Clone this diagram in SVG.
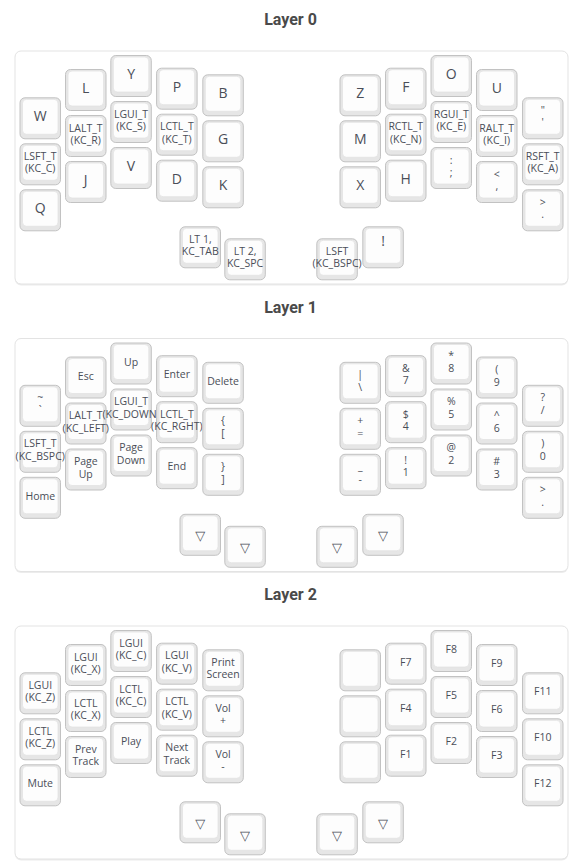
<svg xmlns="http://www.w3.org/2000/svg" xmlns:xlink="http://www.w3.org/1999/xlink" width="580" height="865" viewBox="0 0 580 865">
<style>
.title{font-family:Roboto,"Liberation Sans",sans-serif;font-weight:bold;font-size:16px;fill:#4a4a4a;text-anchor:middle}
.panel{fill:#ffffff;stroke:#e3e3e3;stroke-width:1}
.pshadow{fill:#ececec}
.co{fill:#e6e6e6;stroke:#c2c2c2;stroke-width:1}
.ci{fill:#fdfdfd;stroke:#e2e2e2;stroke-width:0.8}
text{font-family:"Open Sans","Noto Sans","Liberation Sans",sans-serif;fill:#4a4e58;text-anchor:middle}
.b{font-size:14px}
.s{font-size:10.5px}
.tri{font-family:"DejaVu Sans",sans-serif;font-size:13px}
</style>
<defs>
<g id="cap">
<rect class="co" x="0.5" y="0.5" width="40.5" height="41" rx="5"/>
<rect class="ci" x="3" y="2" width="35.5" height="35" rx="4"/>
</g>
</defs>

<!-- ================= LAYER 0 ================= -->
<g id="layer0">
<text class="title" x="290.5" y="25">Layer 0</text>
<rect class="pshadow" x="15" y="52.5" width="553" height="233" rx="6"/>
<rect class="panel" x="15" y="51" width="553" height="233" rx="6"/>
<g id="L0_W" transform="translate(19.5,97.3)"><use href="#cap"/><text class="b" x="20.75" y="24">W</text></g>
<g id="L0_C" transform="translate(19.5,143.3)"><use href="#cap"/><text class="s"><tspan x="20.75" y="16.5">LSFT_T</tspan><tspan x="20.75" y="29">(KC_C)</tspan></text></g>
<g id="L0_Q" transform="translate(19.5,189.3)"><use href="#cap"/><text class="b" x="20.75" y="24">Q</text></g>
<g id="L0_L" transform="translate(65,69)"><use href="#cap"/><text class="b" x="20.75" y="24">L</text></g>
<g id="L0_R" transform="translate(65,115)"><use href="#cap"/><text class="s"><tspan x="20.75" y="16.5">LALT_T</tspan><tspan x="20.75" y="29">(KC_R)</tspan></text></g>
<g id="L0_J" transform="translate(65,161)"><use href="#cap"/><text class="b" x="20.75" y="24">J</text></g>
<g id="L0_Y" transform="translate(110.3,55)"><use href="#cap"/><text class="b" x="20.75" y="24">Y</text></g>
<g id="L0_S" transform="translate(110.3,101)"><use href="#cap"/><text class="s"><tspan x="20.75" y="16.5">LGUI_T</tspan><tspan x="20.75" y="29">(KC_S)</tspan></text></g>
<g id="L0_V" transform="translate(110.3,147)"><use href="#cap"/><text class="b" x="20.75" y="24">V</text></g>
<g id="L0_P" transform="translate(156.1,67.7)"><use href="#cap"/><text class="b" x="20.75" y="24">P</text></g>
<g id="L0_T" transform="translate(156.1,113.7)"><use href="#cap"/><text class="s"><tspan x="20.75" y="16.5">LCTL_T</tspan><tspan x="20.75" y="29">(KC_T)</tspan></text></g>
<g id="L0_D" transform="translate(156.1,159.7)"><use href="#cap"/><text class="b" x="20.75" y="24">D</text></g>
<g id="L0_B" transform="translate(202.3,74.3)"><use href="#cap"/><text class="b" x="20.75" y="24">B</text></g>
<g id="L0_G" transform="translate(202.3,120.3)"><use href="#cap"/><text class="b" x="20.75" y="24">G</text></g>
<g id="L0_K" transform="translate(202.3,166.3)"><use href="#cap"/><text class="b" x="20.75" y="24">K</text></g>
<g id="L0_Z" transform="translate(339.5,74.3)"><use href="#cap"/><text class="b" x="20.75" y="24">Z</text></g>
<g id="L0_M" transform="translate(339.5,120.3)"><use href="#cap"/><text class="b" x="20.75" y="24">M</text></g>
<g id="L0_X" transform="translate(339.5,166.3)"><use href="#cap"/><text class="b" x="20.75" y="24">X</text></g>
<g id="L0_F" transform="translate(385,67.7)"><use href="#cap"/><text class="b" x="20.75" y="24">F</text></g>
<g id="L0_N" transform="translate(385,113.7)"><use href="#cap"/><text class="s"><tspan x="20.75" y="16.5">RCTL_T</tspan><tspan x="20.75" y="29">(KC_N)</tspan></text></g>
<g id="L0_H" transform="translate(385,159.7)"><use href="#cap"/><text class="b" x="20.75" y="24">H</text></g>
<g id="L0_O" transform="translate(430.5,55)"><use href="#cap"/><text class="b" x="20.75" y="24">O</text></g>
<g id="L0_E" transform="translate(430.5,101)"><use href="#cap"/><text class="s"><tspan x="20.75" y="16.5">RGUI_T</tspan><tspan x="20.75" y="29">(KC_E)</tspan></text></g>
<g id="L0_SCLN" transform="translate(430.5,147)"><use href="#cap"/><text class="s"><tspan x="20.75" y="16.5">:</tspan><tspan x="20.75" y="29">;</tspan></text></g>
<g id="L0_U" transform="translate(476,69)"><use href="#cap"/><text class="b" x="20.75" y="24">U</text></g>
<g id="L0_I" transform="translate(476,115)"><use href="#cap"/><text class="s"><tspan x="20.75" y="16.5">RALT_T</tspan><tspan x="20.75" y="29">(KC_I)</tspan></text></g>
<g id="L0_COMM" transform="translate(476,161)"><use href="#cap"/><text class="s"><tspan x="20.75" y="16.5">&lt;</tspan><tspan x="20.75" y="29">,</tspan></text></g>
<g id="L0_QUOT" transform="translate(522,97.3)"><use href="#cap"/><text class="s"><tspan x="20.75" y="16.5">"</tspan><tspan x="20.75" y="29">'</tspan></text></g>
<g id="L0_A" transform="translate(522,143.3)"><use href="#cap"/><text class="s"><tspan x="20.75" y="16.5">RSFT_T</tspan><tspan x="20.75" y="29">(KC_A)</tspan></text></g>
<g id="L0_DOT" transform="translate(522,189.3)"><use href="#cap"/><text class="s"><tspan x="20.75" y="16.5">&gt;</tspan><tspan x="20.75" y="29">.</tspan></text></g>
<g id="L0_TAB" transform="translate(179.5,226.3)"><use href="#cap"/><text class="s"><tspan x="20.75" y="16.5">LT 1,</tspan><tspan x="20.75" y="29">KC_TAB</tspan></text></g>
<g id="L0_SPC" transform="translate(224.3,238.3)"><use href="#cap"/><text class="s"><tspan x="20.75" y="16.5">LT 2,</tspan><tspan x="20.75" y="29">KC_SPC</tspan></text></g>
<g id="L0_BSPC" transform="translate(316.3,238.3)"><use href="#cap"/><text class="s"><tspan x="20.75" y="16.5">LSFT</tspan><tspan x="20.75" y="29">(KC_BSPC)</tspan></text></g>
<g id="L0_EXLM" transform="translate(362.3,226.3)"><use href="#cap"/><text class="b" x="20.75" y="19.5">!</text></g>
</g>

<!-- ================= LAYER 1 ================= -->
<g id="layer1" transform="translate(0,287.5)">
<text class="title" x="290.5" y="25">Layer 1</text>
<rect class="pshadow" x="15" y="52.5" width="553" height="233" rx="6"/>
<rect class="panel" x="15" y="51" width="553" height="233" rx="6"/>
<g id="L1_TILD" transform="translate(19.5,97.3)"><use href="#cap"/><text class="s"><tspan x="20.75" y="16.5">~</tspan><tspan x="20.75" y="29">`</tspan></text></g>
<g id="L1_BSPC" transform="translate(19.5,143.3)"><use href="#cap"/><text class="s"><tspan x="20.75" y="16.5">LSFT_T</tspan><tspan x="20.75" y="29">(KC_BSPC)</tspan></text></g>
<g id="L1_HOME" transform="translate(19.5,189.3)"><use href="#cap"/><text class="s" x="20.75" y="23">Home</text></g>
<g id="L1_ESC" transform="translate(65,69)"><use href="#cap"/><text class="s" x="20.75" y="23">Esc</text></g>
<g id="L1_LEFT" transform="translate(65,115)"><use href="#cap"/><text class="s"><tspan x="20.75" y="16.5">LALT_T</tspan><tspan x="20.75" y="29">(KC_LEFT)</tspan></text></g>
<g id="L1_PGUP" transform="translate(65,161)"><use href="#cap"/><text class="s"><tspan x="20.75" y="16.5">Page</tspan><tspan x="20.75" y="29">Up</tspan></text></g>
<g id="L1_UP" transform="translate(110.3,55)"><use href="#cap"/><text class="s" x="20.75" y="23">Up</text></g>
<g id="L1_DOWN" transform="translate(110.3,101)"><use href="#cap"/><text class="s"><tspan x="20.75" y="16.5">LGUI_T</tspan><tspan x="20.75" y="29">(KC_DOWN)</tspan></text></g>
<g id="L1_PGDN" transform="translate(110.3,147)"><use href="#cap"/><text class="s"><tspan x="20.75" y="16.5">Page</tspan><tspan x="20.75" y="29">Down</tspan></text></g>
<g id="L1_ENT" transform="translate(156.1,67.7)"><use href="#cap"/><text class="s" x="20.75" y="23">Enter</text></g>
<g id="L1_RGHT" transform="translate(156.1,113.7)"><use href="#cap"/><text class="s"><tspan x="20.75" y="16.5">LCTL_T</tspan><tspan x="20.75" y="29">(KC_RGHT)</tspan></text></g>
<g id="L1_END" transform="translate(156.1,159.7)"><use href="#cap"/><text class="s" x="20.75" y="23">End</text></g>
<g id="L1_DEL" transform="translate(202.3,74.3)"><use href="#cap"/><text class="s" x="20.75" y="23">Delete</text></g>
<g id="L1_LBRC" transform="translate(202.3,120.3)"><use href="#cap"/><text class="s"><tspan x="20.75" y="16.5">{</tspan><tspan x="20.75" y="29">[</tspan></text></g>
<g id="L1_RBRC" transform="translate(202.3,166.3)"><use href="#cap"/><text class="s"><tspan x="20.75" y="16.5">}</tspan><tspan x="20.75" y="29">]</tspan></text></g>
<g id="L1_BSLS" transform="translate(339.5,74.3)"><use href="#cap"/><text class="s"><tspan x="20.75" y="16.5">|</tspan><tspan x="20.75" y="29">\</tspan></text></g>
<g id="L1_EQL" transform="translate(339.5,120.3)"><use href="#cap"/><text class="s"><tspan x="20.75" y="16.5">+</tspan><tspan x="20.75" y="29">=</tspan></text></g>
<g id="L1_MINS" transform="translate(339.5,166.3)"><use href="#cap"/><text class="s"><tspan x="20.75" y="16.5">_</tspan><tspan x="20.75" y="29">-</tspan></text></g>
<g id="L1_7" transform="translate(385,67.7)"><use href="#cap"/><text class="s"><tspan x="20.75" y="16.5">&amp;</tspan><tspan x="20.75" y="29">7</tspan></text></g>
<g id="L1_4" transform="translate(385,113.7)"><use href="#cap"/><text class="s"><tspan x="20.75" y="16.5">$</tspan><tspan x="20.75" y="29">4</tspan></text></g>
<g id="L1_1" transform="translate(385,159.7)"><use href="#cap"/><text class="s"><tspan x="20.75" y="16.5">!</tspan><tspan x="20.75" y="29">1</tspan></text></g>
<g id="L1_8" transform="translate(430.5,55)"><use href="#cap"/><text class="s"><tspan x="20.75" y="16.5">*</tspan><tspan x="20.75" y="29">8</tspan></text></g>
<g id="L1_5" transform="translate(430.5,101)"><use href="#cap"/><text class="s"><tspan x="20.75" y="16.5">%</tspan><tspan x="20.75" y="29">5</tspan></text></g>
<g id="L1_2" transform="translate(430.5,147)"><use href="#cap"/><text class="s"><tspan x="20.75" y="16.5">@</tspan><tspan x="20.75" y="29">2</tspan></text></g>
<g id="L1_9" transform="translate(476,69)"><use href="#cap"/><text class="s"><tspan x="20.75" y="16.5">(</tspan><tspan x="20.75" y="29">9</tspan></text></g>
<g id="L1_6" transform="translate(476,115)"><use href="#cap"/><text class="s"><tspan x="20.75" y="16.5">^</tspan><tspan x="20.75" y="29">6</tspan></text></g>
<g id="L1_3" transform="translate(476,161)"><use href="#cap"/><text class="s"><tspan x="20.75" y="16.5">#</tspan><tspan x="20.75" y="29">3</tspan></text></g>
<g id="L1_SLSH" transform="translate(522,97.3)"><use href="#cap"/><text class="s"><tspan x="20.75" y="16.5">?</tspan><tspan x="20.75" y="29">/</tspan></text></g>
<g id="L1_0" transform="translate(522,143.3)"><use href="#cap"/><text class="s"><tspan x="20.75" y="16.5">)</tspan><tspan x="20.75" y="29">0</tspan></text></g>
<g id="L1_DOT" transform="translate(522,189.3)"><use href="#cap"/><text class="s"><tspan x="20.75" y="16.5">&gt;</tspan><tspan x="20.75" y="29">.</tspan></text></g>
<g id="L1_T1" transform="translate(179.5,226.3)"><use href="#cap"/><text class="tri" x="20.75" y="26.5">▽</text></g>
<g id="L1_T2" transform="translate(224.3,238.3)"><use href="#cap"/><text class="tri" x="20.75" y="26.5">▽</text></g>
<g id="L1_T3" transform="translate(316.3,238.3)"><use href="#cap"/><text class="tri" x="20.75" y="26.5">▽</text></g>
<g id="L1_T4" transform="translate(362.3,226.3)"><use href="#cap"/><text class="tri" x="20.75" y="26.5">▽</text></g>
</g>

<!-- ================= LAYER 2 ================= -->
<g id="layer2" transform="translate(0,575)">
<text class="title" x="290.5" y="25">Layer 2</text>
<rect class="pshadow" x="15" y="52.5" width="553" height="233" rx="6"/>
<rect class="panel" x="15" y="51" width="553" height="233" rx="6"/>
<g id="L2_GZ" transform="translate(19.5,97.3)"><use href="#cap"/><text class="s"><tspan x="20.75" y="16.5">LGUI</tspan><tspan x="20.75" y="29">(KC_Z)</tspan></text></g>
<g id="L2_CZ" transform="translate(19.5,143.3)"><use href="#cap"/><text class="s"><tspan x="20.75" y="16.5">LCTL</tspan><tspan x="20.75" y="29">(KC_Z)</tspan></text></g>
<g id="L2_MUTE" transform="translate(19.5,189.3)"><use href="#cap"/><text class="s" x="20.75" y="23">Mute</text></g>
<g id="L2_GX" transform="translate(65,69)"><use href="#cap"/><text class="s"><tspan x="20.75" y="16.5">LGUI</tspan><tspan x="20.75" y="29">(KC_X)</tspan></text></g>
<g id="L2_CX" transform="translate(65,115)"><use href="#cap"/><text class="s"><tspan x="20.75" y="16.5">LCTL</tspan><tspan x="20.75" y="29">(KC_X)</tspan></text></g>
<g id="L2_PREV" transform="translate(65,161)"><use href="#cap"/><text class="s"><tspan x="20.75" y="16.5">Prev</tspan><tspan x="20.75" y="29">Track</tspan></text></g>
<g id="L2_GC" transform="translate(110.3,55)"><use href="#cap"/><text class="s"><tspan x="20.75" y="16.5">LGUI</tspan><tspan x="20.75" y="29">(KC_C)</tspan></text></g>
<g id="L2_CC" transform="translate(110.3,101)"><use href="#cap"/><text class="s"><tspan x="20.75" y="16.5">LCTL</tspan><tspan x="20.75" y="29">(KC_C)</tspan></text></g>
<g id="L2_PLAY" transform="translate(110.3,147)"><use href="#cap"/><text class="s" x="20.75" y="23">Play</text></g>
<g id="L2_GV" transform="translate(156.1,67.7)"><use href="#cap"/><text class="s"><tspan x="20.75" y="16.5">LGUI</tspan><tspan x="20.75" y="29">(KC_V)</tspan></text></g>
<g id="L2_CV" transform="translate(156.1,113.7)"><use href="#cap"/><text class="s"><tspan x="20.75" y="16.5">LCTL</tspan><tspan x="20.75" y="29">(KC_V)</tspan></text></g>
<g id="L2_NEXT" transform="translate(156.1,159.7)"><use href="#cap"/><text class="s"><tspan x="20.75" y="16.5">Next</tspan><tspan x="20.75" y="29">Track</tspan></text></g>
<g id="L2_PSCR" transform="translate(202.3,74.3)"><use href="#cap"/><text class="s"><tspan x="20.75" y="16.5">Print</tspan><tspan x="20.75" y="29">Screen</tspan></text></g>
<g id="L2_VOLU" transform="translate(202.3,120.3)"><use href="#cap"/><text class="s"><tspan x="20.75" y="16.5">Vol</tspan><tspan x="20.75" y="29">+</tspan></text></g>
<g id="L2_VOLD" transform="translate(202.3,166.3)"><use href="#cap"/><text class="s"><tspan x="20.75" y="16.5">Vol</tspan><tspan x="20.75" y="29">-</tspan></text></g>
<g id="L2_E1" transform="translate(339.5,74.3)"><use href="#cap"/></g>
<g id="L2_E2" transform="translate(339.5,120.3)"><use href="#cap"/></g>
<g id="L2_E3" transform="translate(339.5,166.3)"><use href="#cap"/></g>
<g id="L2_F7" transform="translate(385,67.7)"><use href="#cap"/><text class="s" x="20.75" y="23">F7</text></g>
<g id="L2_F4" transform="translate(385,113.7)"><use href="#cap"/><text class="s" x="20.75" y="23">F4</text></g>
<g id="L2_F1" transform="translate(385,159.7)"><use href="#cap"/><text class="s" x="20.75" y="23">F1</text></g>
<g id="L2_F8" transform="translate(430.5,55)"><use href="#cap"/><text class="s" x="20.75" y="23">F8</text></g>
<g id="L2_F5" transform="translate(430.5,101)"><use href="#cap"/><text class="s" x="20.75" y="23">F5</text></g>
<g id="L2_F2" transform="translate(430.5,147)"><use href="#cap"/><text class="s" x="20.75" y="23">F2</text></g>
<g id="L2_F9" transform="translate(476,69)"><use href="#cap"/><text class="s" x="20.75" y="23">F9</text></g>
<g id="L2_F6" transform="translate(476,115)"><use href="#cap"/><text class="s" x="20.75" y="23">F6</text></g>
<g id="L2_F3" transform="translate(476,161)"><use href="#cap"/><text class="s" x="20.75" y="23">F3</text></g>
<g id="L2_F11" transform="translate(522,97.3)"><use href="#cap"/><text class="s" x="20.75" y="23">F11</text></g>
<g id="L2_F10" transform="translate(522,143.3)"><use href="#cap"/><text class="s" x="20.75" y="23">F10</text></g>
<g id="L2_F12" transform="translate(522,189.3)"><use href="#cap"/><text class="s" x="20.75" y="23">F12</text></g>
<g id="L2_T1" transform="translate(179.5,226.3)"><use href="#cap"/><text class="tri" x="20.75" y="26.5">▽</text></g>
<g id="L2_T2" transform="translate(224.3,238.3)"><use href="#cap"/><text class="tri" x="20.75" y="26.5">▽</text></g>
<g id="L2_T3" transform="translate(316.3,238.3)"><use href="#cap"/><text class="tri" x="20.75" y="26.5">▽</text></g>
<g id="L2_T4" transform="translate(362.3,226.3)"><use href="#cap"/><text class="tri" x="20.75" y="26.5">▽</text></g>
</g>
</svg>
